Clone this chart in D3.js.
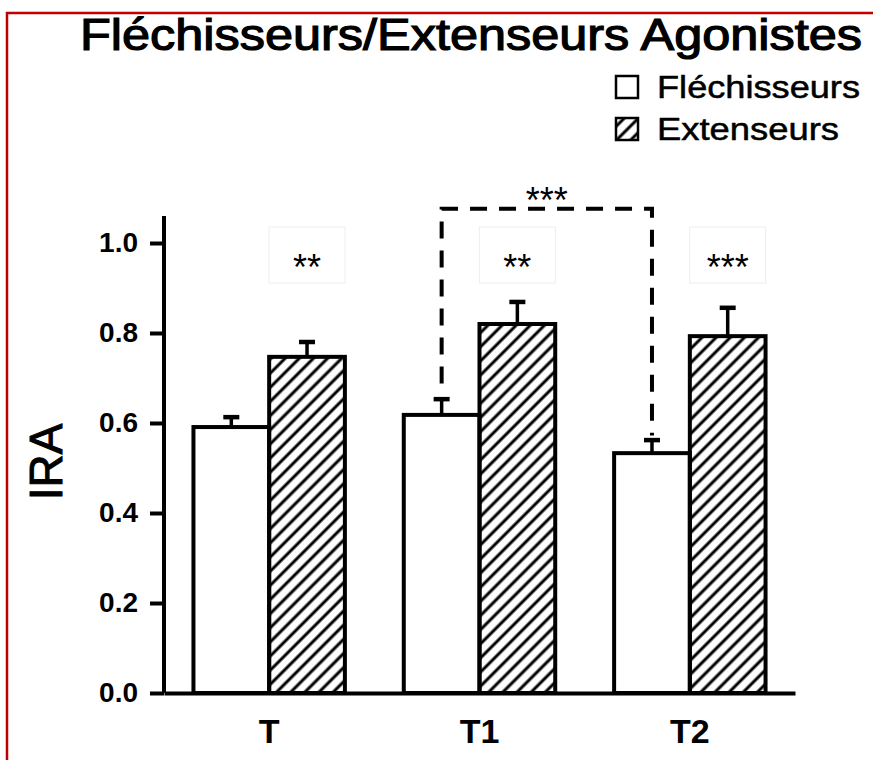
<!DOCTYPE html>
<html>
<head>
<meta charset="utf-8">
<script src="https://cdn.jsdelivr.net/npm/d3@7"></script>
<style>
  body { margin: 0; background: #fff; }
  text { font-family: "Liberation Sans", Arial, sans-serif; }
</style>
</head>
<body>
<div id="chart"></div>
<script>
var width = 873, height = 760;

var categories = ["T", "T1", "T2"]
var series = ["Fléchisseurs", "Extenseurs"]
var flexValues = [0.591, 0.618, 0.533]
var flexErrors = [0.022, 0.035, 0.029]
var extValues = [0.747, 0.820, 0.793]
var extErrors = [0.033, 0.049, 0.063]
var yTicks = [0, 0.2, 0.4, 0.6, 0.8, 1.0]
var sigLabels = ["**", "**", "***"]
var bracketLabel = "***"
var bracketPair = ["T1", "T2"]

var svg = d3.select("#chart").append("svg")
    .attr("width", width)
    .attr("height", height);

// hatch pattern
var defs = svg.append("defs");
defs.append("pattern")
    .attr("id", "hatch")
    .attr("patternUnits", "userSpaceOnUse")
    .attr("width", 10)
    .attr("height", 10)
    .attr("patternTransform", "rotate(45)")
    .append("line")
    .attr("x1", 5).attr("y1", 0)
    .attr("x2", 5).attr("y2", 10)
    .attr("stroke", "#000")
    .attr("stroke-width", 3);

// red frame
svg.append("path")
    .attr("d", "M7,760 L7,13 L873,13")
    .attr("fill", "none")
    .attr("stroke", "#c00000")
    .attr("stroke-width", 2.5);

// title
svg.append("text")
    .attr("x", 80)
    .attr("y", 50)
    .attr("textLength", 782)
    .attr("lengthAdjust", "spacingAndGlyphs")
    .style("font-size", "44px")
    .style("stroke", "#000")
    .style("stroke-width", 1.2)
    .text("Fléchisseurs/Extenseurs Agonistes");

// scales
var xScale = d3.scaleBand().domain(categories).range([164, 795])
    .paddingInner(0.28).paddingOuter(0.14);
var xSub = d3.scaleBand().domain(series).range([0, xScale.bandwidth()]);
var yScale = d3.scaleLinear().domain([0, 1.06]).range([693, 693 - 1.06 * 450]);

// legend
var legendWidths = [203, 182]
var legend = svg.append("g");
series.forEach(function(s, i){
    var y = 76 + i * 42;
    legend.append("rect")
        .attr("x", 616).attr("y", y)
        .attr("width", 22).attr("height", 22)
        .attr("fill", i == 0 ? "#fff" : "url(#hatch)")
        .attr("stroke", "#000").attr("stroke-width", 2.5);
    legend.append("text")
        .attr("x", 657).attr("y", y + 22)
        .attr("textLength", legendWidths[i])
        .attr("lengthAdjust", "spacingAndGlyphs")
        .style("font-size", "31px")
        .style("stroke", "#000")
        .style("stroke-width", 0.5)
        .text(s);
});

// bars
var data = []
for(var i = 0; i < categories.length; i++){
    data.push({cat: categories[i], s: series[0], v: flexValues[i], e: flexErrors[i]})
    data.push({cat: categories[i], s: series[1], v: extValues[i], e: extErrors[i]})
}

var g = svg.append("g");

// error bars (behind bars)
g.selectAll(".err")
    .data(data)
    .enter().append("line")
    .attr("x1", d => xScale(d.cat) + xSub(d.s) + xSub.bandwidth() / 2)
    .attr("x2", d => xScale(d.cat) + xSub(d.s) + xSub.bandwidth() / 2)
    .attr("y1", d => yScale(d.v))
    .attr("y2", d => yScale(d.v + d.e))
    .attr("stroke", "#000").attr("stroke-width", 3.5);
g.selectAll(".cap")
    .data(data)
    .enter().append("line")
    .attr("x1", d => xScale(d.cat) + xSub(d.s) + xSub.bandwidth() / 2 - 8)
    .attr("x2", d => xScale(d.cat) + xSub(d.s) + xSub.bandwidth() / 2 + 8)
    .attr("y1", d => yScale(d.v + d.e))
    .attr("y2", d => yScale(d.v + d.e))
    .attr("stroke", "#000").attr("stroke-width", 4.5);

g.selectAll(".bar")
    .data(data)
    .enter().append("rect")
    .attr("x", d => xScale(d.cat) + xSub(d.s))
    .attr("y", d => yScale(d.v))
    .attr("width", xSub.bandwidth())
    .attr("height", d => yScale(0) - yScale(d.v))
    .attr("fill", d => d.s == series[0] ? "#fff" : "url(#hatch)")
    .attr("stroke", "#000")
    .attr("stroke-width", 4);

// axes
var yAxis = svg.append("g")
    .attr("transform", "translate(164,0)")
    .call(d3.axisLeft(yScale).tickValues(yTicks).tickSize(14).tickPadding(12)
        .tickFormat(d => d.toFixed(1)));
yAxis.selectAll("path, line").attr("stroke", "#000").attr("stroke-width", 4);
yAxis.select(".domain").attr("d", "M0," + yScale(1.06) + "V" + yScale(0));
yAxis.selectAll("text")
    .style("font-family", "'Liberation Sans', Arial, sans-serif")
    .style("font-size", "28px").style("font-weight", "bold").attr("fill", "#000");

var xAxis = svg.append("g")
    .attr("transform", "translate(0," + yScale(0) + ")")
    .call(d3.axisBottom(xScale).tickSize(0).tickPadding(26));
xAxis.select(".domain").attr("stroke", "#000").attr("stroke-width", 4);
xAxis.selectAll("text")
    .style("font-family", "'Liberation Sans', Arial, sans-serif")
    .style("font-size", "34px").style("font-weight", "bold").attr("fill", "#000");

// y label
svg.append("text")
    .attr("transform", "translate(62,462) rotate(-90)")
    .attr("text-anchor", "middle")
    .style("font-size", "46px")
    .style("stroke", "#000")
    .style("stroke-width", 1)
    .text("IRA");

// significance labels with faint boxes
categories.forEach(function(c, i){
    var cx = xScale(c) + xSub(series[1]) + xSub.bandwidth() / 2;
    svg.append("rect")
        .attr("x", cx - 38).attr("y", 227)
        .attr("width", 76).attr("height", 56)
        .attr("fill", "none").attr("stroke", "#eeeeee").attr("stroke-width", 1);
    svg.append("text")
        .attr("x", cx).attr("y", 280)
        .attr("text-anchor", "middle")
        .style("font-size", "36px")
        .text(sigLabels[i]);
});

// bracket
var iA = categories.indexOf(bracketPair[0]), iB = categories.indexOf(bracketPair[1]);
var bx1 = xScale(bracketPair[0]) + xSub.bandwidth() / 2;
var bx2 = xScale(bracketPair[1]) + xSub.bandwidth() / 2;
var by = yScale(1.076);
svg.append("path")
    .attr("d", "M" + bx1 + "," + yScale(flexValues[iA] + flexErrors[iA] + 0.035) +
        "V" + by + "H" + bx2 + "V" + yScale(flexValues[iB] + flexErrors[iB] + 0.01))
    .attr("fill", "none")
    .attr("stroke", "#000")
    .attr("stroke-width", 4)
    .attr("stroke-dasharray", "17,12");
svg.append("text")
    .attr("x", (bx1 + bx2) / 2).attr("y", by + 4)
    .attr("text-anchor", "middle")
    .style("font-size", "36px")
    .text(bracketLabel);
</script>
</body>
</html>
